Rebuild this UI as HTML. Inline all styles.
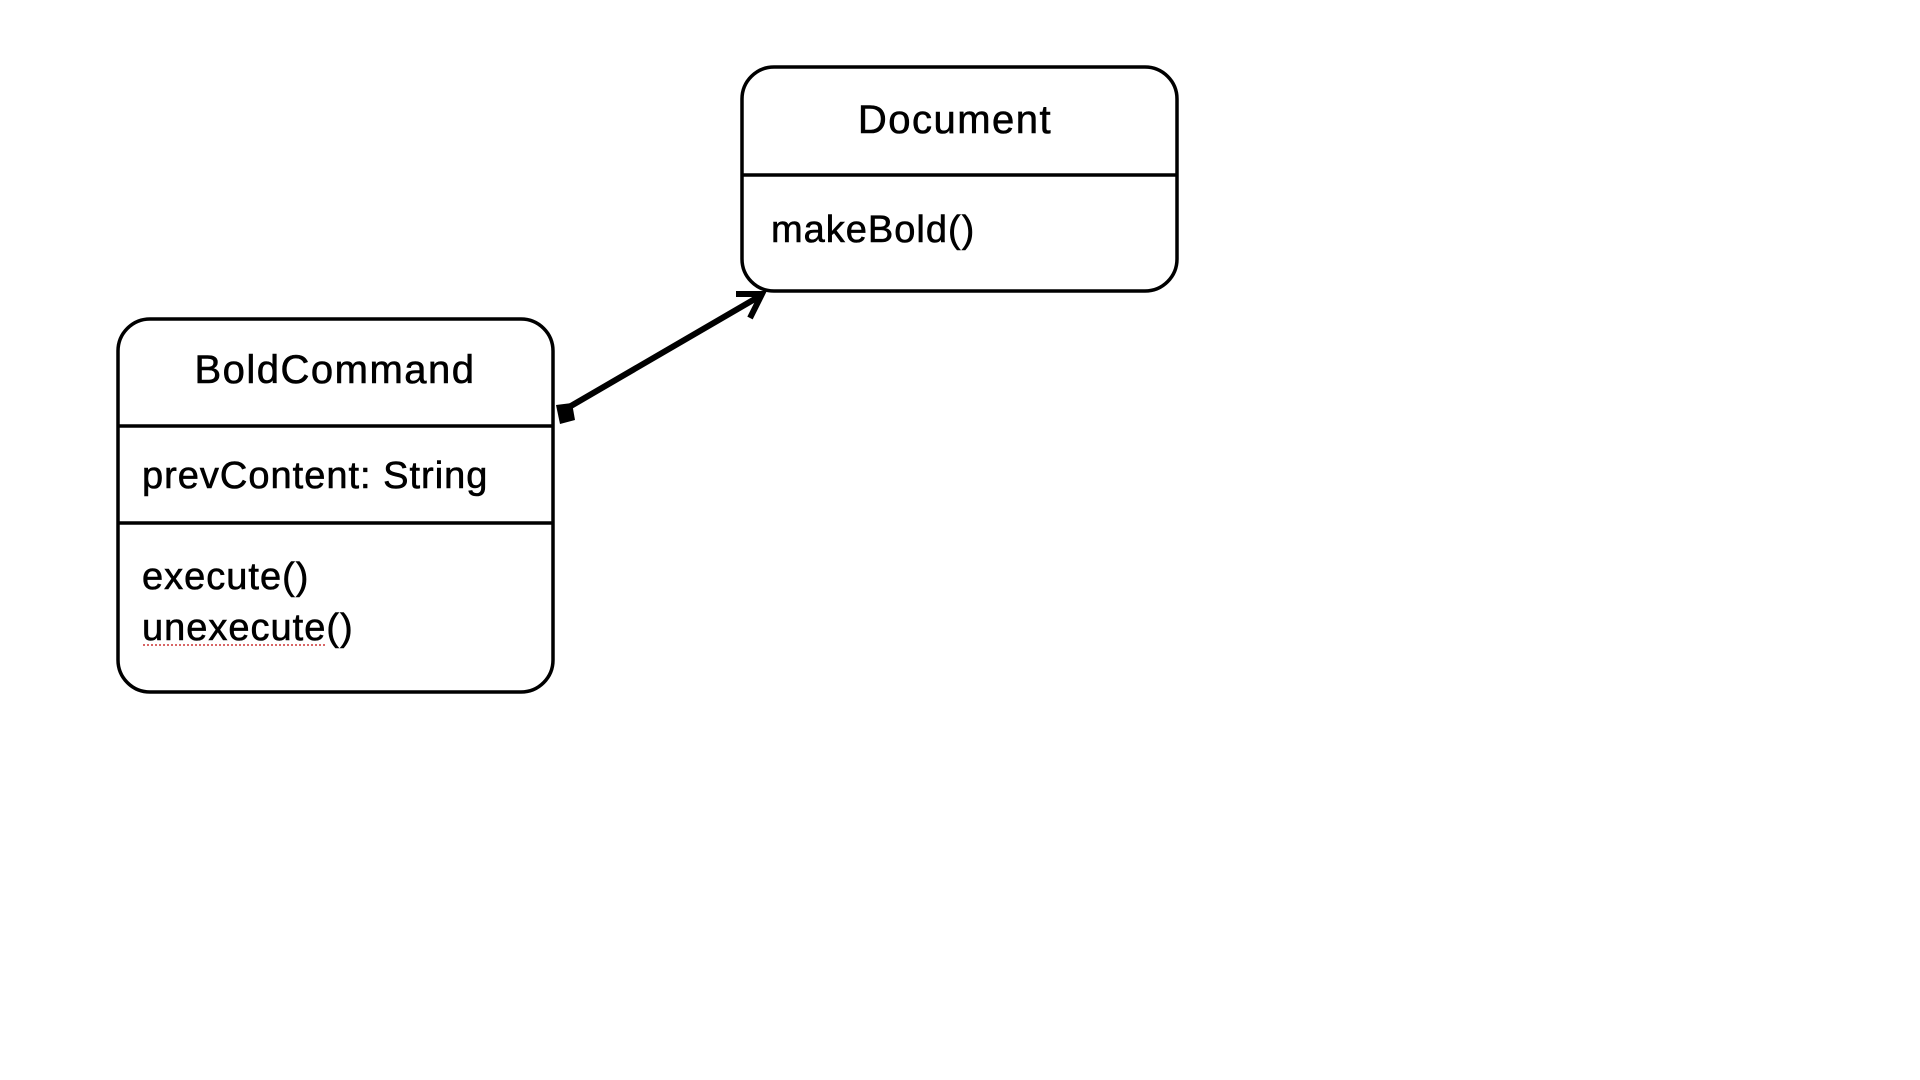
<!DOCTYPE html>
<html><head><style>
body{margin:0;width:1920px;height:1080px;background:#fff;overflow:hidden;font-family:"Liberation Sans",sans-serif;}
svg{position:absolute;left:0;top:0}
text{font-family:"Liberation Sans",sans-serif;font-size:38px;letter-spacing:1px;fill:#000;stroke:#000;stroke-width:0.6}
.t{font-size:40px;letter-spacing:1.5px}
</style></head><body>
<svg width="1920" height="1080">
<rect x="742" y="67" width="435" height="224" rx="32" fill="none" stroke="#000" stroke-width="3.5"/>
<line x1="742" y1="175" x2="1177" y2="175" stroke="#000" stroke-width="3.5"/>
<text class="t" x="955" y="133" text-anchor="middle">Document</text>
<text x="771" y="242">makeBold()</text>

<rect x="118" y="319" width="435" height="373" rx="32" fill="none" stroke="#000" stroke-width="3.5"/>
<line x1="118" y1="426" x2="553" y2="426" stroke="#000" stroke-width="3.5"/>
<line x1="118" y1="523" x2="553" y2="523" stroke="#000" stroke-width="3.5"/>
<text class="t" x="335" y="383" text-anchor="middle">BoldCommand</text>
<text x="142" y="488">prevContent: String</text>
<text x="142" y="589">execute()</text>
<text x="142" y="640">unexecute()</text>
<line x1="143" y1="645" x2="326" y2="645" stroke="#c33" stroke-width="1.5" stroke-dasharray="2,2"/>

<line x1="564" y1="410" x2="760" y2="296" stroke="#000" stroke-width="6"/>
<polyline points="736,294 762,294 750,318" fill="none" stroke="#000" stroke-width="6"/>
<polygon points="556,405 572,403 575,420 560,424" fill="#000"/>
</svg>
</body></html>
